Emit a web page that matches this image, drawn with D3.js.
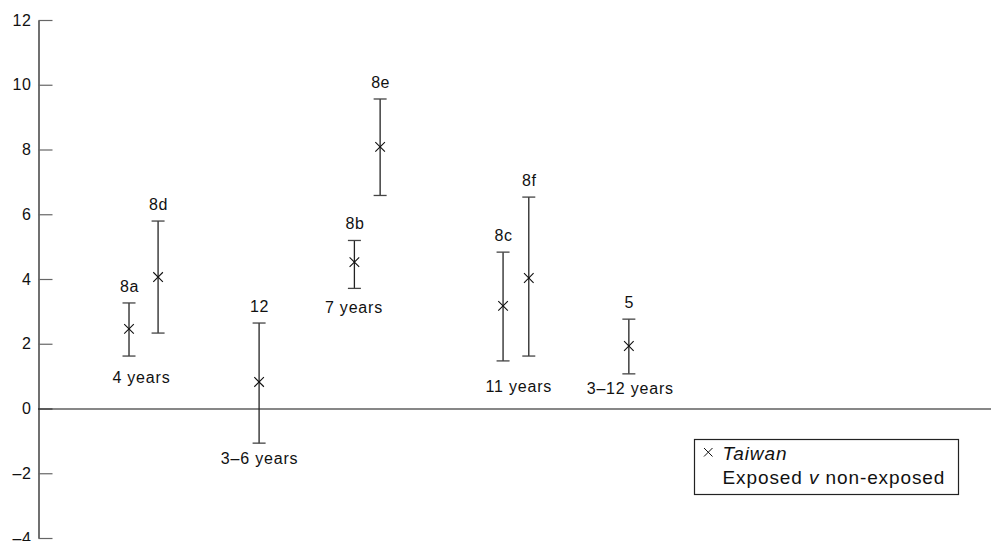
<!DOCTYPE html>
<html>
<head>
<meta charset="utf-8">
<script src="https://cdn.jsdelivr.net/npm/d3@7"></script>
<style>
  body { margin: 0; background: #fff; }
  svg text { font-family: "Liberation Sans", Arial, Helvetica, sans-serif; fill: #111; }
</style>
</head>
<body>
<svg id="chart" width="991" height="541"></svg>
<script>
// studies, in order along the x axis
const studies  = ["8a", "8d", "12", "8b", "8e", "8c", "8f", "5"];
const slot     = [9.55, 12.6, 23.2, 33.2, 35.9, 48.8, 51.5, 62.0];
const estimate = [2.46, 4.06, 0.82, 4.52, 8.08, 3.17, 4.03, 1.93];
const lower    = [1.62, 2.33, -1.07, 3.71, 6.58, 1.47, 1.62, 1.07];
const upper    = [3.26, 5.79, 2.64, 5.19, 9.56, 4.83, 6.53, 2.76];

// age groups written under the bars
const groups     = ["4 years", "3–6 years", "7 years", "11 years", "3–12 years"];
const groupSlot  = [10.8, 23.2, 33.1, 50.4, 62.1];
const groupLevel = [0.97, -1.53, 3.14, 0.69, 0.63];

const yTicks = [-4, -2, 0, 2, 4, 6, 8, 10, 12];

const svg = d3.select("#chart");

let x = d3.scaleLinear().domain([0, 100]).range([38, 991]);
let y = d3.scaleLinear().domain([-4, 12]).range([538, 20]);

// y axis, ticks pointing inward
let yAxis = d3.axisLeft(y)
    .tickValues(yTicks)
    .tickSize(-14)
    .tickSizeOuter(0)
    .tickPadding(7)
    .tickFormat(d => d < 0 ? "–" + Math.abs(d) : d);

let ga = svg.append("g")
    .attr("transform", "translate(38.5,0)")
    .call(yAxis);
ga.select(".domain").attr("stroke", "#111").attr("stroke-width", 1.2);
ga.selectAll(".tick line").attr("stroke", "#666").attr("stroke-width", 1.2);
ga.selectAll(".tick text")
    .style("font-size", "16px")
    .style("letter-spacing", "0.6px")
    .attr("fill", "#111")
    .attr("font-family", null);

// zero line
svg.append("line")
    .attr("x1", x(0)).attr("x2", x(100))
    .attr("y1", y(0) + 0.5).attr("y2", y(0) + 0.5)
    .attr("stroke", "#111")
    .attr("stroke-width", 1.2);

let data = studies.map((s, i) => ({
    name: s, pos: slot[i], est: estimate[i], lo: lower[i], hi: upper[i]
}));

let bars = svg.append("g").selectAll("g")
    .data(data)
    .join("g");

// error bar
bars.append("line")
    .attr("x1", d => x(d.pos)).attr("x2", d => x(d.pos))
    .attr("y1", d => y(d.hi)).attr("y2", d => y(d.lo))
    .attr("stroke", "#222").attr("stroke-width", 1.3);
bars.append("line")
    .attr("x1", d => x(d.pos) - 6.5).attr("x2", d => x(d.pos) + 6.5)
    .attr("y1", d => y(d.hi)).attr("y2", d => y(d.hi))
    .attr("stroke", "#444").attr("stroke-width", 1.3);
bars.append("line")
    .attr("x1", d => x(d.pos) - 6.5).attr("x2", d => x(d.pos) + 6.5)
    .attr("y1", d => y(d.lo)).attr("y2", d => y(d.lo))
    .attr("stroke", "#444").attr("stroke-width", 1.3);

// cross marker
bars.append("path")
    .attr("d", d => {
        let cx = x(d.pos), cy = y(d.est), r = 4.8;
        return `M${cx - r},${cy - r}L${cx + r},${cy + r}M${cx - r},${cy + r}L${cx + r},${cy - r}`;
    })
    .attr("stroke", "#111").attr("stroke-width", 1.1).attr("fill", "none");

// study label
bars.append("text")
    .attr("x", d => x(d.pos) + 0.5)
    .attr("y", d => y(d.hi) - 11)
    .attr("text-anchor", "middle")
    .style("font-size", "16px")
    .style("letter-spacing", "0.6px")
    .text(d => d.name);

// group labels
svg.append("g").selectAll("text")
    .data(groups)
    .join("text")
    .attr("x", (d, i) => x(groupSlot[i]) + 0.5)
    .attr("y", (d, i) => y(groupLevel[i]) + 6)
    .attr("text-anchor", "middle")
    .style("font-size", "16px")
    .style("letter-spacing", "0.8px")
    .text(d => d);

// legend
let lg = svg.append("g").attr("transform", "translate(694.5,439.5)");
lg.append("rect")
    .attr("width", 264).attr("height", 55)
    .attr("fill", "none").attr("stroke", "#222").attr("stroke-width", 1.2);
lg.append("path")
    .attr("d", "M9.5,8.5L18,17M9.5,17L18,8.5")
    .attr("stroke", "#111").attr("stroke-width", 1).attr("fill", "none");
lg.append("text")
    .attr("x", 28).attr("y", 20)
    .style("font-size", "19px")
    .style("font-style", "italic")
    .style("letter-spacing", "0.9px")
    .text("Taiwan");
let t2 = lg.append("text")
    .attr("x", 28).attr("y", 44)
    .style("font-size", "19px")
    .style("letter-spacing", "0.9px");
t2.append("tspan").text("Exposed ");
t2.append("tspan").style("font-style", "italic").text("v");
t2.append("tspan").text(" non-exposed");
</script>
</body>
</html>
